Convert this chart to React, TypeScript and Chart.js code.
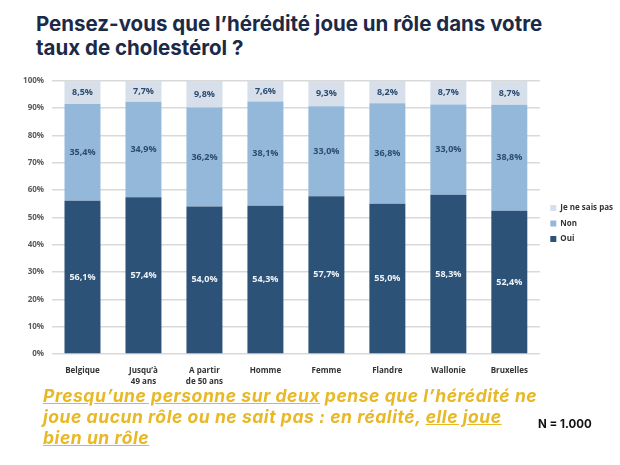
import React, { useEffect, useRef } from "react";
import { Chart, registerables } from "chart.js";

Chart.register(...registerables);

const categories: (string | string[])[] = [
  "Belgique",
  ["Jusqu’à", "49 ans"],
  ["A partir", "de 50 ans"],
  "Homme",
  "Femme",
  "Flandre",
  "Wallonie",
  "Bruxelles",
];
const oui = [56.1, 57.4, 54.0, 54.3, 57.7, 55.0, 58.3, 52.4];
const non = [35.4, 34.9, 36.2, 38.1, 33.0, 36.8, 33.0, 38.8];
const nsp = [8.5, 7.7, 9.8, 7.6, 9.3, 8.2, 8.7, 8.7];
const yTicks = [0, 10, 20, 30, 40, 50, 60, 70, 80, 90, 100];

const DARK = "#2c5278";
const MID = "#93b8da";
const LIGHT = "#d6dfea";

const fmt = (v: number) => v.toFixed(1).replace(".", ",") + "%";

// Writes each segment's value in the middle of its stacked bar piece
const segmentLabels = {
  id: "segmentLabels",
  afterDatasetsDraw(chart: any) {
    const ctx = chart.ctx;
    ctx.save();
    ctx.font = "bold 9px 'Open Sans', sans-serif";
    ctx.textAlign = "center";
    ctx.textBaseline = "middle";
    chart.data.datasets.forEach((ds: any, di: number) => {
      const meta = chart.getDatasetMeta(di);
      meta.data.forEach((bar: any, i: number) => {
        const { x, y, base } = bar.getProps(["x", "y", "base"], true);
        ctx.fillStyle = di === 0 ? "#eef3f8" : "#2d4b6f";
        ctx.fillText(fmt(ds.data[i]), x, (y + base) / 2);
      });
    });
    ctx.restore();
  },
};

// Nudges the side legend a little below the plot's vertical centre
const legendOffset = {
  id: "legendOffset",
  afterLayout(chart: any) {
    const lg = chart.legend;
    if (!lg) return;
    lg.top += 6;
    lg.bottom += 6;
    lg.left += 3;
    lg.right += 3;
  },
};

function StackedChart() {
  const ref = useRef<HTMLCanvasElement>(null);
  useEffect(() => {
    if (!ref.current) return;
    const chart = new Chart(ref.current, {
      type: "bar",
      data: {
        labels: categories,
        datasets: [
          { label: "Oui", data: oui, backgroundColor: DARK },
          { label: "Non", data: non, backgroundColor: MID },
          { label: "Je ne sais pas", data: nsp, backgroundColor: LIGHT },
        ],
      },
      options: {
        responsive: false,
        animation: false,
        layout: { padding: { left: 14, right: 0, top: 6, bottom: 0 } },
        datasets: {
          bar: { categoryPercentage: 1, barPercentage: 0.59 },
        },
        scales: {
          x: {
            stacked: true,
            grid: { display: false },
            border: { display: false },
            ticks: {
              color: "#333333",
              font: {
                family: "'Open Sans', sans-serif",
                size: 8,
                weight: "bold",
                lineHeight: 1.4,
              },
              padding: 3,
              maxRotation: 0,
              autoSkip: false,
            },
            afterFit: (s: any) => {
              s.height = 34;
            },
          },
          y: {
            stacked: true,
            min: 0,
            max: 100,
            afterBuildTicks: (s: any) => {
              s.ticks = yTicks.map((v) => ({ value: v }));
            },
            grid: { color: "#d9d9d9", lineWidth: 1.5, drawTicks: false },
            border: { display: false },
            ticks: {
              color: "#595959",
              padding: 8,
              font: { family: "'Open Sans', sans-serif", size: 8, weight: "bold" },
              callback: (v: any) => v + "%",
            },
            afterFit: (s: any) => {
              s.width = 38;
            },
          },
        },
        plugins: {
          legend: {
            position: "right",
            fullSize: false,
            reverse: true,
            labels: {
              boxWidth: 6,
              boxHeight: 6,
              padding: 7.5,
              color: "#333333",
              font: { family: "'Open Sans', sans-serif", size: 8, weight: "bold" },
            },
          },
          tooltip: { enabled: false },
        },
      },
      plugins: [segmentLabels, legendOffset],
    });
    return () => chart.destroy();
  }, []);
  return <canvas ref={ref} width={620} height={320} />;
}

export default function App() {
  return (
    <div
      style={{
        position: "absolute",
        left: 0,
        top: 0,
        width: 620,
        height: 465,
        background: "#ffffff",
        overflow: "hidden",
      }}
    >
      <div
        style={{
          position: "absolute",
          left: 36,
          top: 12,
          fontFamily: "Inter, sans-serif",
          fontWeight: 700,
          fontSize: 20.5,
          lineHeight: "24px",
          color: "#1d2a47",
          whiteSpace: "nowrap",
        }}
      >
        Pensez-vous que l’hérédité joue un rôle dans votre
        <br />
        taux de cholestérol ?
      </div>
      <div style={{ position: "absolute", left: 0, top: 68, width: 620, height: 320 }}>
        <StackedChart />
      </div>
      <div
        style={{
          position: "absolute",
          left: 43,
          top: 385,
          width: 540,
          fontFamily: "Inter, sans-serif",
          fontWeight: 700,
          fontStyle: "italic",
          fontSize: 17.5,
          letterSpacing: "0.55px",
          lineHeight: "21px",
          color: "#e8b826",
          whiteSpace: "nowrap",
        }}
      >
        <span style={{ textDecoration: "underline" }}>Presqu’une personne sur deux</span> pense que
        l’hérédité ne
        <br />
        joue aucun rôle ou ne sait pas : en réalité,{" "}
        <span style={{ textDecoration: "underline" }}>elle joue</span>
        <br />
        <span style={{ textDecoration: "underline" }}>bien un rôle</span>
      </div>
      <div
        style={{
          position: "absolute",
          left: 538,
          top: 417,
          fontFamily: "Inter, sans-serif",
          fontWeight: 700,
          fontSize: 11.5,
          color: "#111111",
        }}
      >
        N = 1.000
      </div>
    </div>
  );
}
